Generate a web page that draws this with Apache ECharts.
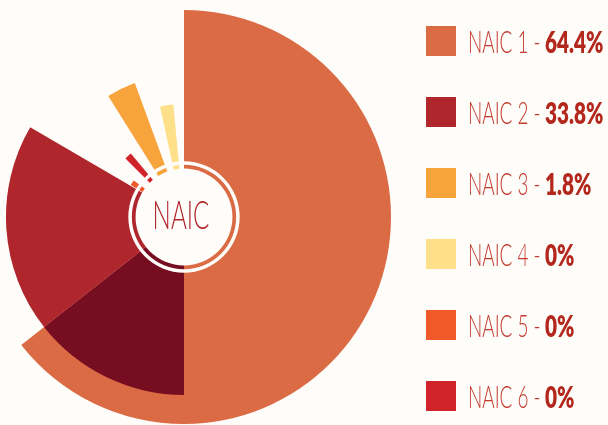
<!DOCTYPE html>
<html>
<head>
<meta charset="utf-8">
<script src="https://cdn.jsdelivr.net/npm/echarts@6/dist/echarts.min.js"></script>
<style>
html,body{margin:0;padding:0;background:#fffdfa;}
#c{width:608px;height:425px;}
</style>
</head>
<body>
<div id="c"></div>
<script>
// ---- data ----
const categories = ['NAIC 1', 'NAIC 2', 'NAIC 3', 'NAIC 4', 'NAIC 5', 'NAIC 6'];
const shares = [64.4, 33.8, 1.8, 0, 0, 0];
const shareLabels = ['64.4%', '33.8%', '1.8%', '0%', '0%', '0%'];
// drawn segments, angle in % of a full turn (clockwise from 12 o'clock), reach in % of outer radius
const segNames  = ['NAIC 1', 'NAIC 2 (overlap)', 'NAIC 2', 'NAIC 3', 'NAIC 4', 'NAIC 6', 'NAIC 5'];
const segStart  = [0, 50, shares[0], 91.1, 96.6, 87.5, 83.6];
const segEnd    = [shares[0], shares[0], 83.4, 94.4, 98.5, 88.9, 85.0];
const segReach  = [100, 86, 86, 69, 54.6, 40, 30];

// ---- styles ----
const legendColors = ['#da6b45', '#b0262d', '#f8a43c', '#fee08a', '#f05a28', '#d0232a'];
const segColors = ['#da6b45', '#770d20', '#b0262d', '#f8a43c', '#fee08a', '#d0232a', '#f05a28'];
const textLight = '#c3392c';
const textBold = '#b3271d';

const chart = echarts.init(document.getElementById('c'), null, {renderer: 'canvas'});

const segData = segStart.map((s, i) => ({
  name: segNames[i],
  value: [s, segEnd[i], segReach[i], i]
}));

function sectorItem(params, api) {
  const cs = params.coordSys;
  const s = api.value(0), e = api.value(1), r = api.value(2), idx = api.value(3);
  const p0 = api.coord([r, s]);
  const p1 = api.coord([r, e]);
  const rPx = Math.hypot(p0[0] - cs.cx, p0[1] - cs.cy);
  let a0 = Math.atan2(p0[1] - cs.cy, p0[0] - cs.cx);
  let a1 = Math.atan2(p1[1] - cs.cy, p1[0] - cs.cx);
  if (a1 <= a0) a1 += Math.PI * 2;
  return {
    type: 'sector',
    shape: {cx: cs.cx, cy: cs.cy, r0: 0, r: rPx, startAngle: a0, endAngle: a1, clockwise: true},
    style: {fill: segColors[idx]}
  };
}

// centre decoration in radius-axis units
const discR = 23.4, ringIn = 25.2, ringOut = 26.9;
function centerItem(params, api) {
  const cs = params.coordSys;
  const rr = v => { const p = api.coord([v, 0]); return Math.hypot(p[0] - cs.cx, p[1] - cs.cy); };
  return {
    type: 'group',
    children: [
      {type: 'ring', shape: {cx: cs.cx, cy: cs.cy, r0: rr(ringIn), r: rr(ringOut)}, style: {fill: '#fffdfa'}},
      {type: 'circle', shape: {cx: cs.cx, cy: cs.cy, r: rr(discR)}, style: {fill: '#fffdfa'}},
      {type: 'text', x: cs.cx - 3, y: cs.cy - 1, scaleX: 0.62,
       style: {text: 'NAIC', fill: '#b0272e', font: '300 39px Lato', align: 'center', verticalAlign: 'middle'}}
    ]
  };
}

// legend built as graphic elements
const legendGraphics = [];
categories.forEach((c, i) => {
  const yc = 41 + i * 71;
  legendGraphics.push({type: 'rect', x: 426, y: yc - 15, shape: {width: 30, height: 30}, style: {fill: legendColors[i]}});
  legendGraphics.push({type: 'text', x: 468, y: yc + 2, scaleX: 0.61,
    style: {text: c + ' -', fill: textLight, font: '300 31px Lato', align: 'left', verticalAlign: 'middle'}});
  legendGraphics.push({type: 'text', x: 545, y: yc + 2, scaleX: 0.67,
    style: {text: shareLabels[i], fill: textBold, font: '800 31px Lato', align: 'left', verticalAlign: 'middle'}});
});

chart.setOption({
  backgroundColor: '#fffdfa',
  animation: false,
  polar: {center: [184, 217], radius: 207},
  angleAxis: {type: 'value', min: 0, max: 100, startAngle: 90, clockwise: true, show: false},
  radiusAxis: {type: 'value', min: 0, max: 100, show: false},
  graphic: legendGraphics,
  series: [
    {type: 'custom', coordinateSystem: 'polar', renderItem: sectorItem, data: segData, silent: true},
    {type: 'custom', coordinateSystem: 'polar', renderItem: centerItem, data: [[0, 0]], silent: true, z: 3}
  ]
});
</script>
</body>
</html>
